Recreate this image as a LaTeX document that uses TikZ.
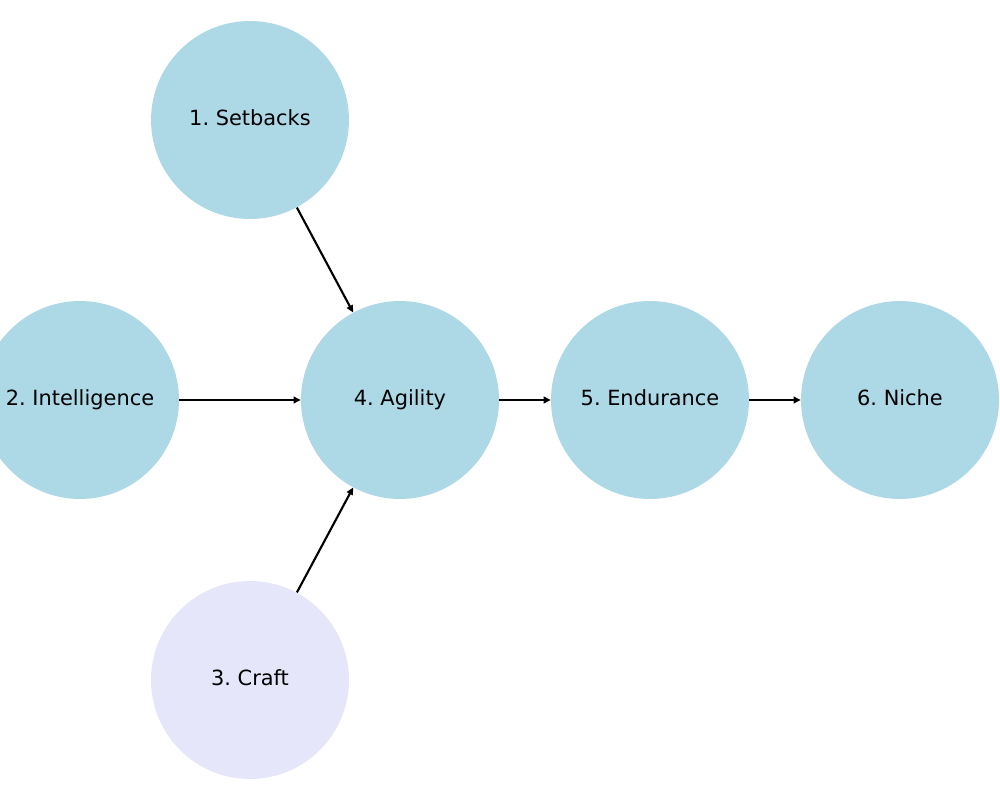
\documentclass[tikz,border=0pt]{standalone}
\usepackage{fontspec}
\setmainfont{DejaVu Sans}
\usetikzlibrary{arrows.meta}
\definecolor{nodeblue}{HTML}{ADD8E6}
\definecolor{nodelav}{HTML}{E6E6FA}
\frenchspacing
\tikzset{
  bubble/.style={circle, fill=nodeblue, draw=none, minimum size=3.96cm, inner sep=0pt, text height=0.8em, text depth=0.2em, font=\fontsize{11.9}{14}\selectfont},
  lav/.style={bubble, fill=nodelav},
  conn/.style={-{Triangle[length=4pt,width=3.8pt]}, line width=1.2pt}
}
\begin{document}
\begin{tikzpicture}[x=0.02cm,y=-0.02cm]
\useasboundingbox (0,0) rectangle (1000,800);
\node[bubble] (s) at (250,120) {1. Setbacks};
\node[bubble] (i) at (80,400) {2. Intelligence};
\node[lav] (c) at (250,680) {3. Craft};
\node[bubble] (a) at (400,400) {4. Agility};
\node[bubble] (e) at (650,400) {5. Endurance};
\node[bubble] (n) at (900,400) {6. Niche};
\draw[conn] (s) -- (a);
\draw[conn] (i) -- (a);
\draw[conn] (c) -- (a);
\draw[conn] (a) -- (e);
\draw[conn] (e) -- (n);
\end{tikzpicture}
\end{document}
